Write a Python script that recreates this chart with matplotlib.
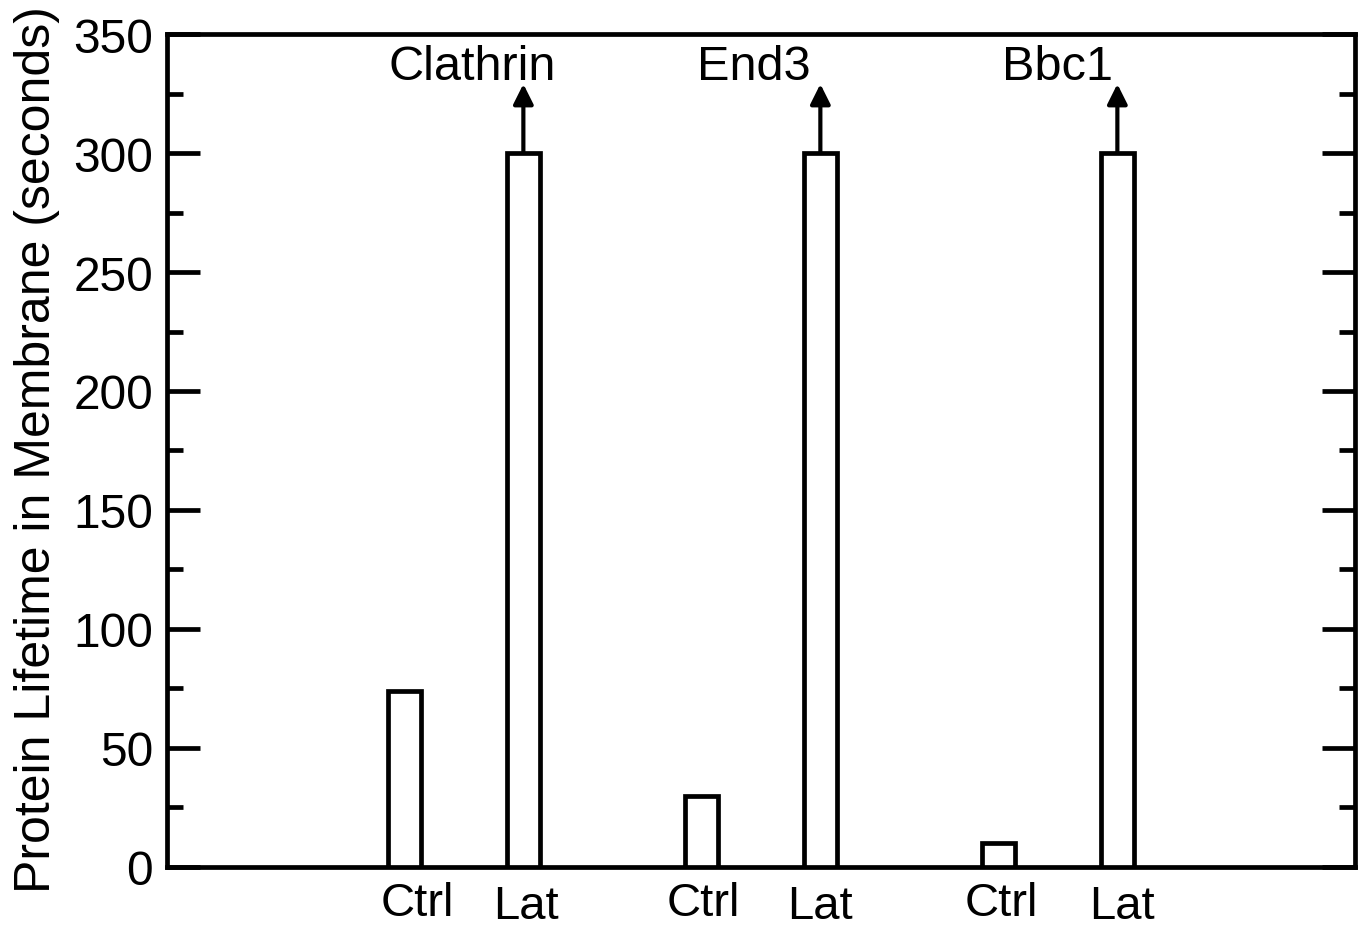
import numpy as np
import matplotlib
matplotlib.use('Agg')
import matplotlib.pyplot as plt
from matplotlib.ticker import MultipleLocator

plt.rcParams['font.family'] = ['Liberation Sans', 'DejaVu Sans']

proteins = ["Clathrin", "End3", "Bbc1"]
conditions = ["Ctrl", "Lat"]
ctrl_vals = [74, 30, 10]
lat_vals = [300, 300, 300]
lat_arrow_to = 329  # lat lifetimes run past the 300 s movie, arrow marks "more than"

group_pos = np.array([0.0, 2.5, 5.0])
ctrl_pos = group_pos
lat_pos = group_pos + 1.0
bar_w = 0.28
lw = 3.4

fig = plt.figure(figsize=(13.63, 9.29), dpi=100)
ax = fig.add_axes([0.1225, 0.0657, 0.8716, 0.8966])

ax.bar(ctrl_pos, ctrl_vals, width=bar_w, color='white', edgecolor='black', linewidth=lw, zorder=3)
ax.bar(lat_pos, lat_vals, width=bar_w, color='white', edgecolor='black', linewidth=lw, zorder=3)

for i, name in enumerate(proteins):
    ax.annotate("", xy=(lat_pos[i], lat_arrow_to), xytext=(lat_pos[i], lat_vals[i]),
                arrowprops=dict(arrowstyle='-|>', color='black', lw=3, shrinkA=0, shrinkB=0,
                                mutation_scale=30))
# protein names above the arrows
name_dx = [-0.43, -0.56, -0.5]
for i, name in enumerate(proteins):
    ax.text(lat_pos[i] + name_dx[i], 331, name, ha='center', va='baseline', fontsize=35)

# condition labels under the bars (Lat sits a bit lower than Ctrl)
ctrl_dx = [13, 2, 3]
lat_dx = [3, 0, 5]
for i in range(len(proteins)):
    ax.annotate(conditions[0], xy=(ctrl_pos[i], 0), xytext=(ctrl_dx[i], -48),
                textcoords='offset pixels', ha='center', va='baseline', fontsize=34)
    ax.annotate(conditions[1], xy=(lat_pos[i], 0), xytext=(lat_dx[i], -51),
                textcoords='offset pixels', ha='center', va='baseline', fontsize=34)

ax.set_xlim(-2, 8)
ax.set_ylim(0, 350)
ax.set_xticks([])
ax.yaxis.set_major_locator(MultipleLocator(50))
ax.yaxis.set_minor_locator(MultipleLocator(25))
ax.tick_params(axis='y', which='both', direction='in', left=True, right=True, width=lw,
               labelsize=34.5, pad=10)
ax.tick_params(axis='y', which='major', length=24)
ax.tick_params(axis='y', which='minor', length=11.5)
for sp in ax.spines.values():
    sp.set_linewidth(lw)

ax.set_ylabel("Protein Lifetime in Membrane (seconds)", fontsize=36)
ax.yaxis.set_label_coords(-0.09, 0.502)

plt.savefig("out.png")
plt.close()
